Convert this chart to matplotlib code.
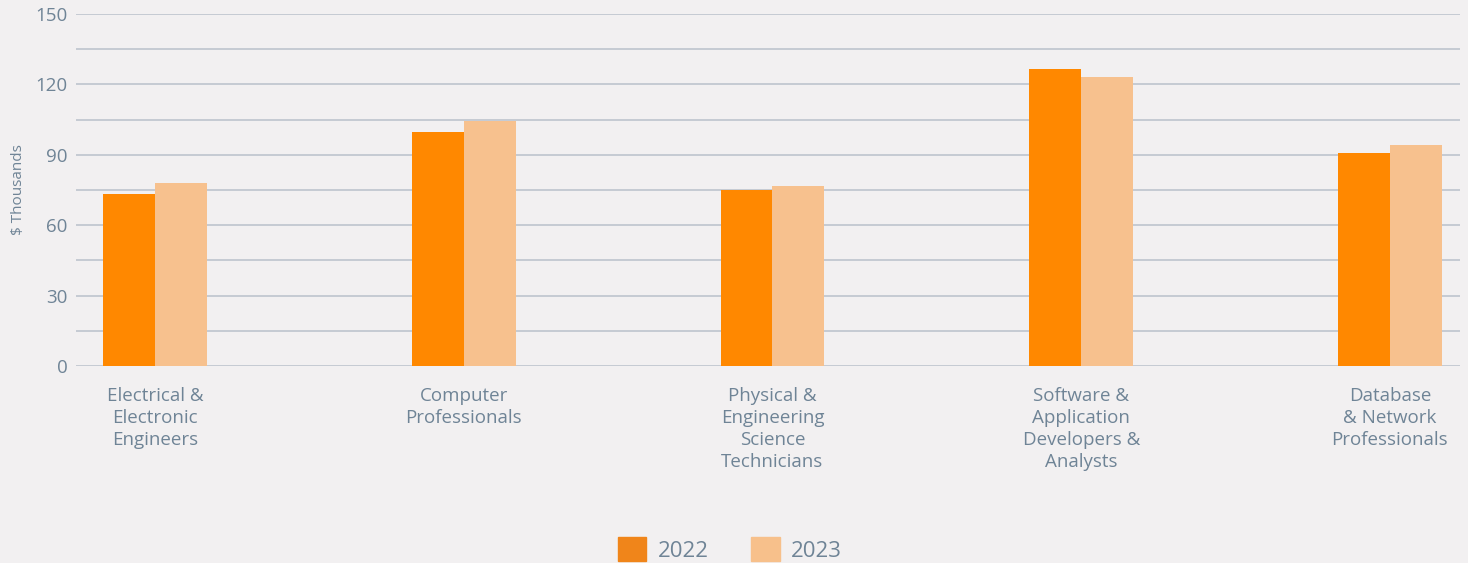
import numpy as np
import matplotlib.pyplot as plt
from matplotlib.ticker import MultipleLocator
from matplotlib.patches import Patch

categories = ["Electrical &\nElectronic\nEngineers", "Computer\nProfessionals",
              "Physical &\nEngineering\nScience\nTechnicians",
              "Software &\nApplication\nDevelopers &\nAnalysts",
              "Database\n& Network\nProfessionals"]
vals_2022 = [73.3, 99.7, 75.0, 126.5, 90.8]
vals_2023 = [78.0, 104.4, 76.7, 123.1, 94.2]
years = ["2022", "2023"]

bg = "#f2f0f1"
grid_c = "#c2c8d0"
text_c = "#6f8496"
c22 = "#ff8800"
c23 = "#f7c18e"

plt.rcParams['font.family'] = ['Open Sans', 'DejaVu Sans']

fig = plt.figure(figsize=(14.68, 5.63), dpi=100, facecolor=bg)
ax = fig.add_axes([76/1468, 197/563, 1384/1468, 352/563], facecolor=bg)

x = np.arange(len(categories))
w = 0.168
ax.bar(x - w/2, vals_2022, w, color=c22, zorder=3)
ax.bar(x + w/2, vals_2023, w, color=c23, zorder=3)

ax.set_xlim(-0.256, 4.227)
ax.set_ylim(0, 150)
ax.yaxis.set_major_locator(MultipleLocator(30))
ax.yaxis.set_minor_locator(MultipleLocator(15))
ax.grid(axis='y', which='both', color=grid_c, linewidth=1.3, zorder=0)
for s in ax.spines.values():
    s.set_visible(False)
ax.tick_params(axis='y', which='both', length=0, pad=6, labelsize=13.5, labelcolor=text_c)
ax.tick_params(axis='x', length=0, pad=15, labelsize=13.5, labelcolor=text_c)
ax.set_xticks(x)
ax.set_xticklabels(categories, linespacing=1.3)
ax.set_ylabel("$ Thousands", color=text_c, fontsize=11, labelpad=7)

handles = [Patch(color="#f0851a"), Patch(color="#f7c08b")]
fig.legend(handles=handles, labels=years, loc='upper center',
           bbox_to_anchor=(0.497, 0.066), ncol=2, frameon=False,
           fontsize=16, labelcolor=text_c, handlelength=1.3, handleheight=1.3,
           handletextpad=0.5, columnspacing=1.9, borderpad=0)

fig.savefig("out.png", dpi=100, facecolor=bg)
